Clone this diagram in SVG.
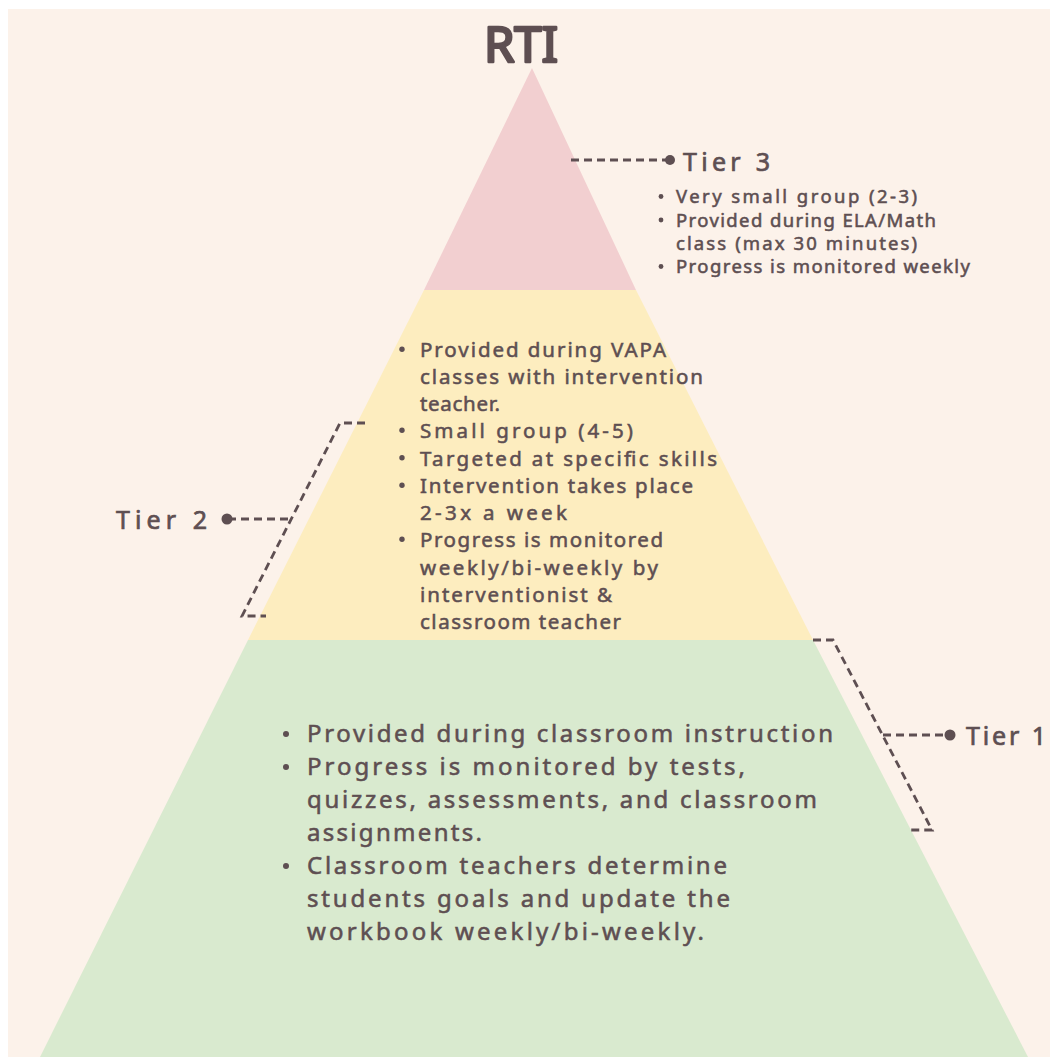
<svg xmlns="http://www.w3.org/2000/svg" width="1050" height="1057" viewBox="0 0 1050 1057">
<style>
.t{font-family:"Noto Sans","Liberation Sans",sans-serif;fill:#5E4F52;stroke:#5E4F52;stroke-width:0.55px;}
.t3{font-size:18.5px;}
.t2{font-size:20.5px;}
.t1{font-size:24px;}
.lbl{font-size:25px;stroke-width:0.7px;}
.ttl{font-size:49px;stroke-width:2.6px;stroke-linejoin:round;}
.dash{fill:none;stroke:#5E4F52;stroke-width:2.8;stroke-dasharray:8 5;}
.dot{fill:#5E4F52;}
</style>
<rect x="0" y="0" width="1050" height="1057" fill="#FFFFFF"/>
<rect x="8" y="9" width="1042" height="1048" fill="#FCF2EA"/>
<g id="title"><text class="t ttl" x="484" y="62" textLength="74" lengthAdjust="spacing">RTI</text></g>
<g id="tier3">
<polygon points="532,68 636,290 424,290" fill="#F2CFD0"/>
<text class="t lbl" x="683" y="171" textLength="87" lengthAdjust="spacing">Tier 3</text>
<g class="dot">
<circle cx="661" cy="196.5" r="2.4"/>
<circle cx="661" cy="220" r="2.4"/>
<circle cx="661" cy="266.5" r="2.4"/>
</g>
<g class="t t3">
<text x="676" y="203" textLength="241" lengthAdjust="spacing">Very small group (2-3)</text>
<text x="676" y="226.5" textLength="260" lengthAdjust="spacing">Provided during ELA/Math</text>
<text x="676" y="250" textLength="241" lengthAdjust="spacing">class (max 30 minutes)</text>
<text x="676" y="273" textLength="294" lengthAdjust="spacing">Progress is monitored weekly</text>
</g>
</g>
<g id="tier2">
<polygon points="424,290 636,290 813,640 248,640" fill="#FDEDBF"/>
<text class="t lbl" x="116" y="529" textLength="91" lengthAdjust="spacing">Tier 2</text>
<g class="dot">
<circle cx="402" cy="349.3" r="2.7"/>
<circle cx="402" cy="430.3" r="2.7"/>
<circle cx="402" cy="457.8" r="2.7"/>
<circle cx="402" cy="485.3" r="2.7"/>
<circle cx="402" cy="539.3" r="2.7"/>
</g>
<g class="t t2">
<text x="420" y="357" textLength="246" lengthAdjust="spacing">Provided during VAPA</text>
<text x="420" y="384" textLength="283" lengthAdjust="spacing">classes with intervention</text>
<text x="420" y="411" textLength="80" lengthAdjust="spacing">teacher.</text>
<text x="420" y="438" textLength="213" lengthAdjust="spacing">Small group (4-5)</text>
<text x="420" y="465.5" textLength="297" lengthAdjust="spacing">Targeted at specific skills</text>
<text x="420" y="493" textLength="273" lengthAdjust="spacing">Intervention takes place</text>
<text x="420" y="520" textLength="147" lengthAdjust="spacing">2-3x a week</text>
<text x="420" y="547" textLength="243" lengthAdjust="spacing">Progress is monitored</text>
<text x="420" y="574.5" textLength="238" lengthAdjust="spacing">weekly/bi-weekly by</text>
<text x="420" y="602" textLength="192" lengthAdjust="spacing">interventionist &amp;</text>
<text x="420" y="629" textLength="201" lengthAdjust="spacing">classroom teacher</text>
</g>
</g>
<g id="tier1">
<polygon points="248,640 813,640 1028,1057 40,1057" fill="#D9EACF"/>
<text class="t lbl" x="966" y="745" textLength="80" lengthAdjust="spacing">Tier 1</text>
<g class="dot">
<circle cx="286" cy="734" r="3"/>
<circle cx="286" cy="767" r="3"/>
<circle cx="286" cy="866" r="3"/>
</g>
<g class="t t1">
<text x="307" y="742" textLength="526" lengthAdjust="spacing">Provided during classroom instruction</text>
<text x="307" y="775" textLength="438" lengthAdjust="spacing">Progress is monitored by tests,</text>
<text x="307" y="808" textLength="510" lengthAdjust="spacing">quizzes, assessments, and classroom</text>
<text x="307" y="841" textLength="175" lengthAdjust="spacing">assignments.</text>
<text x="307" y="874" textLength="420" lengthAdjust="spacing">Classroom teachers determine</text>
<text x="307" y="907" textLength="423" lengthAdjust="spacing">students goals and update the</text>
<text x="307" y="940" textLength="397" lengthAdjust="spacing">workbook weekly/bi-weekly.</text>
</g>
</g>
<g id="connectors">
<path class="dash" d="M571,160 H666"/>
<circle class="dot" cx="670" cy="160" r="5"/>
<path class="dash" d="M365,423 H340 L242,616 H266"/>
<path class="dash" d="M288,519 H231"/>
<circle class="dot" cx="227" cy="519" r="5.5"/>
<path class="dash" d="M813,640 H833 L932,830 H908"/>
<path class="dash" d="M883,735 H946"/>
<circle class="dot" cx="950" cy="735" r="5.5"/>
</g>
</svg>
